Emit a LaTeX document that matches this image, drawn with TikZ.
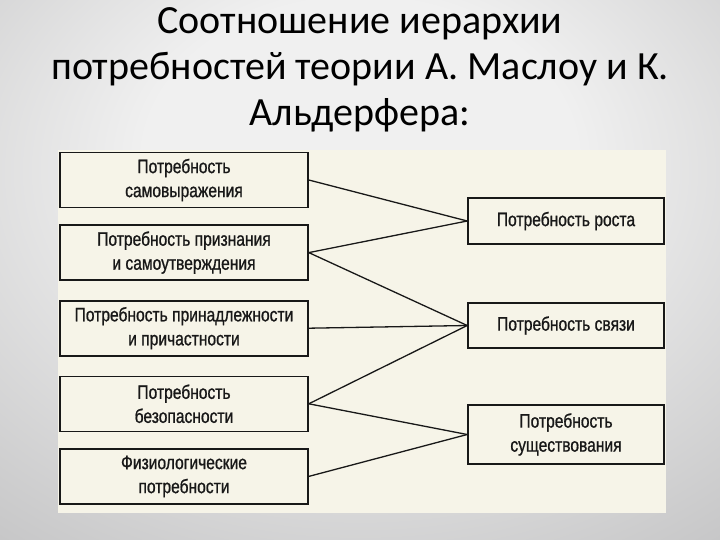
\documentclass[tikz,border=0pt]{standalone}
\usepackage{fontspec}
\setmainfont{Carlito}
\newfontfamily\needfont[FakeStretch=0.8, FakeBold=0.9]{Liberation Sans}
\usetikzlibrary{positioning}
\definecolor{slideedge}{RGB}{152,152,154}
\definecolor{slidecentre}{RGB}{240,240,240}
\definecolor{paper}{RGB}{246,244,232}
\definecolor{ink}{RGB}{24,24,24}
\pgfdeclareradialshading{slideglow}{\pgfpoint{0bp}{12bp}}{%
  color(0bp)=(slidecentre); color(15bp)=(slidecentre); color(70bp)=(slideedge); color(100bp)=(slideedge)}
\tikzset{
    need/.style={draw=ink, line width=1.6pt, fill=paper, text=ink, align=center,
      inner sep=0pt, font=\needfont\fontsize{19.5}{24}\selectfont},
    maslow/.style={need, minimum width=248pt, minimum height=55pt},
    alderfer/.style={need, minimum width=196pt},
    link/.style={draw=ink, line width=1.3pt},
    heading/.style={align=center, text=black, font=\fontsize{40}{46}\selectfont},
}

\begin{document}
\begin{tikzpicture}[x=1pt, y=-1pt]
    % slide background and the scanned page
    \shade[shading=slideglow] (0,0) rectangle (720,540);
    \useasboundingbox (0,0) rectangle (720,540);
    \fill[paper] (58,150) rectangle (666,513);

    \node[heading] (title) at (360,70) {Соотношение иерархии\\потребностей теории А. Маслоу и К.\\Альдерфера:};

    % Maslow
    \node[maslow] (m1) at (184,180) {Потребность\\самовыражения};
    \node[maslow, below=16pt of m1] (m2) {Потребность признания\\и самоутверждения};
    \node[maslow, below=19pt of m2] (m3) {Потребность принадлежности\\и причастности};
    \node[maslow, below=19pt of m3] (m4) {Потребность\\безопасности};
    \node[maslow, below=16pt of m4] (m5) {Физиологические\\потребности};

    % Alderfer
    \node[alderfer, minimum height=46pt] (a1) at (566,221) {Потребность роста};
    \node[alderfer, minimum height=45pt] (a2) at (566,325.5) {Потребность связи};
    \node[alderfer, minimum height=59pt] (a3) at (566,434.5) {Потребность\\существования};

    \foreach \from/\to in {m1/a1, m2/a1, m2/a2, m3/a2, m4/a2, m4/a3, m5/a3}
      \draw[link] (\from.east) -- (\to.west);
\end{tikzpicture}
\end{document}
